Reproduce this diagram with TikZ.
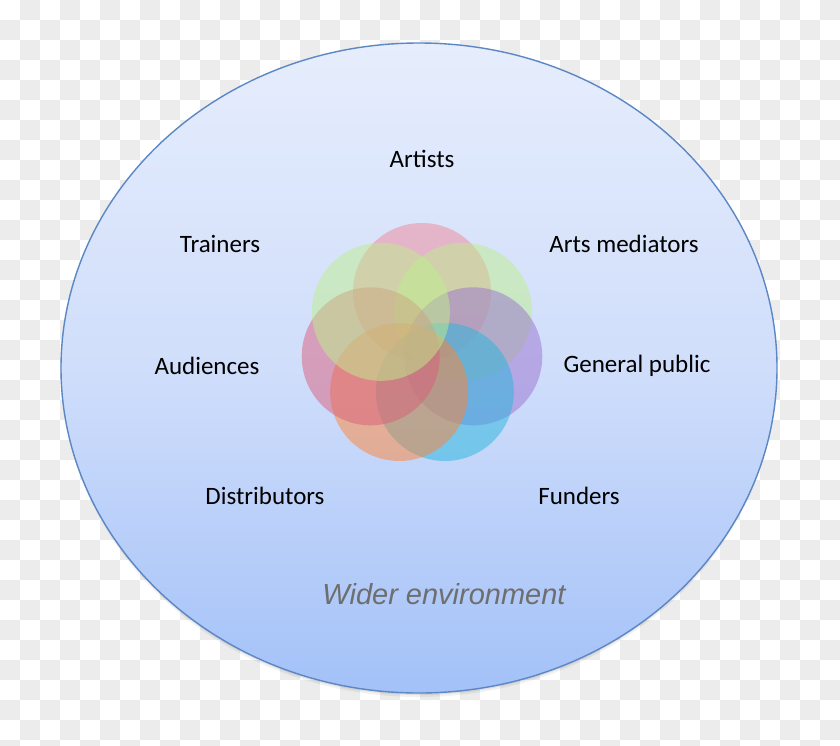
\documentclass[tikz,border=0pt]{standalone}
\usepackage{fontspec}
\setmainfont{Carlito}
\newfontfamily\wfont{Liberation Sans}
\usetikzlibrary{shapes.geometric}
\definecolor{checkgray}{HTML}{ECECEC}
\definecolor{envtop}{HTML}{E6EDFC}
\definecolor{envmid}{HTML}{D0DEFB}
\definecolor{envbot}{HTML}{A3C1F8}
\definecolor{envline}{HTML}{5B87C5}
\definecolor{cpinktop}{HTML}{F08898}
\definecolor{cgreen}{HTML}{BEEE8C}
\definecolor{cpurple}{HTML}{9A72CE}
\definecolor{ccyan}{HTML}{26B6DE}
\definecolor{corange}{HTML}{FF8436}
\definecolor{cpinkleft}{HTML}{DA5E7A}
\definecolor{wgray}{HTML}{6E6E6E}
\begin{document}
\begin{tikzpicture}[x=1pt,y=-1pt,
  lbl/.style={font=\fontsize{25}{30}\selectfont, text=black, inner sep=0pt},
  petal/.style={circle, minimum size=138pt, inner sep=0pt, fill opacity=0.5, draw=none}]
\useasboundingbox (0,0) rectangle (840,745);
% checkerboard background
\begin{scope}
\clip (0,0) rectangle (840,745);
\fill[white] (0,0) rectangle (840,745);
\foreach \i in {0,...,41}{\foreach \j in {0,...,37}{
  \pgfmathtruncatemacro\s{mod(\i+\j,2)}
  \ifnum\s=1 \fill[checkgray] (\i*20,\j*20) rectangle ++(20,20);\fi}}
\end{scope}
% shadow
\fill[black, opacity=0.05] (419,373) ellipse [x radius=357, y radius=324];
\fill[black, opacity=0.07] (419,371) ellipse [x radius=357, y radius=324];
% environment ellipse
\node (env) [ellipse, minimum width=716pt, minimum height=650pt, inner sep=0pt,
  top color=envtop, bottom color=envbot, middle color=envmid,
  draw=envline, line width=1.4pt] at (419,368) {};
% petals
\foreach \a/\c/\n in {90/cpinktop/p1, 38.571/cgreen/p2, -12.857/cpurple/p3,
  -64.286/ccyan/p4, -115.714/corange/p5, -167.143/cpinkleft/p6, 141.429/cgreen/p7}{
  \node (\n) [petal, fill=\c] at ({422+52.6*cos(\a)},{344.6-52.6*sin(\a)}) {};
}
% labels
\node (artists) [lbl] at (422,159) {Artists};
\node (trainers) [lbl] at (220,244) {Trainers};
\node (mediators) [lbl] at (624,244) {Arts mediators};
\node (audiences) [lbl] at (207,366) {Audiences};
\node (public) [lbl] at (637,366) {General public};
\node (distributors) [lbl] at (265,496) {Distributors};
\node (funders) [lbl] at (579,496) {Funders};
\node (wider) [inner sep=0pt, text=wgray, font=\wfont\itshape\fontsize{29}{34}\selectfont] at (444,594) {Wider environment};
\end{tikzpicture}
\end{document}
